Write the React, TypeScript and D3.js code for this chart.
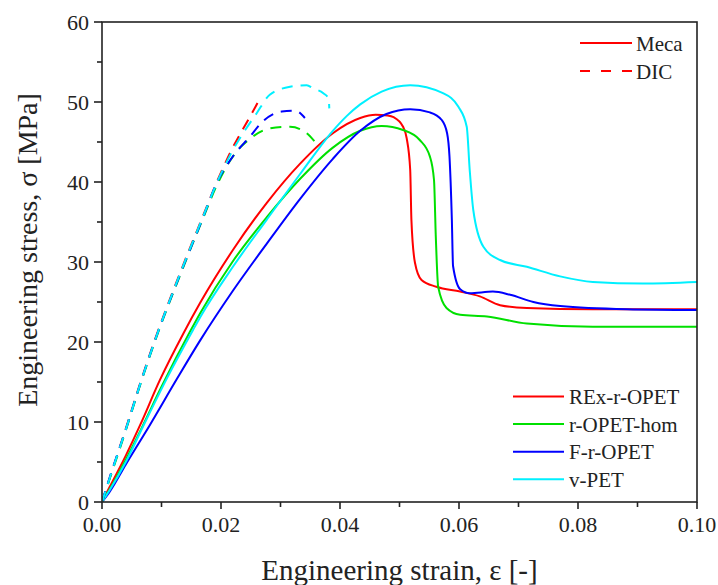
import React from "react";
import * as d3 from "d3";

// plot frame (px)
const W = 718;
const H = 585;
const margin = { left: 102, right: 21, top: 22, bottom: 83 };

// Meca curves [strain, stress]
const rexMeca = [
  [0, 0], [0.0013, 1.9], [0.004, 5.8], [0.0064, 9.6], [0.0097, 15.2], [0.0137, 21.1],
  [0.0165, 24.9], [0.022, 31.5], [0.0277, 37.4], [0.0333, 42.3], [0.0388, 46.1],
  [0.0434, 48.0], [0.046, 48.4], [0.048, 48.3], [0.049, 48.1], [0.0506, 46.9],
  [0.0512, 45.5], [0.0518, 41.5], [0.052, 35.3], [0.0526, 29.9], [0.0537, 27.75],
  [0.0562, 26.9], [0.0602, 26.3], [0.0635, 25.7], [0.0669, 24.6], [0.0714, 24.25],
  [0.0825, 24.1], [0.1, 24.1]
];
const homMeca = [
  [0, 0], [0.0013, 1.6], [0.004, 5.3], [0.0067, 9.3], [0.01, 14.4], [0.0148, 21.3],
  [0.0165, 23.6], [0.022, 30.1], [0.0277, 35.6], [0.0333, 40.4], [0.0388, 44.3],
  [0.0434, 46.4], [0.047, 47.0], [0.0506, 46.5], [0.0534, 45.25], [0.0551, 43.2],
  [0.0558, 40.25], [0.0561, 33.2], [0.0565, 26.9], [0.0579, 24.25], [0.0602, 23.4],
  [0.0647, 23.2], [0.0714, 22.3], [0.0825, 21.9], [0.1, 21.9]
];
const fMeca = [
  [0, 0], [0.0013, 1.3], [0.004, 4.7], [0.0081, 9.7], [0.0126, 15.4], [0.0165, 20.2],
  [0.022, 26.4], [0.0277, 32.3], [0.0333, 37.9], [0.0388, 42.9], [0.0434, 46.4],
  [0.0478, 48.5], [0.0518, 49.1], [0.0551, 48.7], [0.0571, 47.75], [0.058, 46.1],
  [0.0584, 43.2], [0.0588, 35.25], [0.059, 29.5], [0.0602, 26.6], [0.0618, 26.1],
  [0.0657, 26.3], [0.0686, 25.9], [0.0725, 25.0], [0.077, 24.5], [0.0882, 24.1], [0.1, 24.0]
];
const vMeca = [
  [0, 0], [0.0013, 1.5], [0.004, 5.0], [0.007, 9.6], [0.0108, 15.3], [0.0153, 21.5],
  [0.0165, 23.1], [0.022, 29.4], [0.0277, 35.3], [0.0333, 41.0], [0.0388, 46.4],
  [0.0412, 48.3], [0.0434, 49.7], [0.047, 51.3], [0.0518, 52.1], [0.0573, 51.1],
  [0.0599, 49.4], [0.0613, 46.9], [0.0618, 41.5], [0.0624, 36.5], [0.0641, 31.9],
  [0.0669, 30.25], [0.0714, 29.4], [0.077, 28.2], [0.0825, 27.5], [0.0909, 27.3], [0.1, 27.5]
];

// DIC curves [strain, stress]
const rexDic = [
  [0, 0], [0.0013, 3.0], [0.0041, 9.4], [0.0064, 14.8], [0.0089, 20.3], [0.0131, 28.6],
  [0.017, 35.8], [0.0193, 40.0], [0.0215, 43.6], [0.0249, 48.2], [0.0266, 50.5]
];
const homDic = [
  [0, 0], [0.0013, 2.9], [0.0041, 9.2], [0.0064, 14.6], [0.0089, 20.1], [0.0131, 28.3],
  [0.017, 35.5], [0.0193, 39.6], [0.0226, 43.8], [0.0246, 45.25], [0.0282, 46.7],
  [0.0316, 46.9], [0.0344, 46.1], [0.0358, 45.0]
];
const fDic = [
  [0, 0], [0.0013, 3.1], [0.0041, 9.3], [0.0064, 14.7], [0.0089, 20.2], [0.0131, 28.4],
  [0.017, 35.6], [0.0193, 39.9], [0.022, 43.2], [0.0249, 45.7], [0.0268, 47.4],
  [0.0302, 48.8], [0.0325, 48.9], [0.0341, 48.0]
];
const vDic = [
  [0, 0], [0.0013, 3.0], [0.0041, 9.3], [0.0064, 14.7], [0.0089, 20.2], [0.0131, 28.5],
  [0.017, 35.7], [0.0193, 39.9], [0.0215, 43.3], [0.026, 48.6], [0.0282, 50.9],
  [0.0316, 51.9], [0.0344, 52.1], [0.0355, 51.7], [0.0372, 51.1], [0.0381, 50.4], [0.0382, 49.2]
];

const seriesNames = ["REx-r-OPET", "r-OPET-hom", "F-r-OPET", "v-PET"];
const seriesColors = ["#ff0000", "#00e000", "#0000ff", "#00f0ff"];
const mecaData = [rexMeca, homMeca, fMeca, vMeca];
const dicData = [rexDic, homDic, fDic, vDic];

const xTicks = [0, 0.02, 0.04, 0.06, 0.08, 0.1];
const xMinor = [0.01, 0.03, 0.05, 0.07, 0.09];
const yTicks = [0, 10, 20, 30, 40, 50, 60];
const yMinor = [5, 15, 25, 35, 45, 55];

const font = "'Liberation Serif', 'Times New Roman', serif";
const axisColor = "#222";

export default function App() {
  const x = d3.scaleLinear().domain([0, 0.1]).range([margin.left, W - margin.right]);
  const y = d3.scaleLinear().domain([0, 60]).range([H - margin.bottom, margin.top]);

  const line = d3
    .line<number[]>()
    .x(d => x(d[0]))
    .y(d => y(d[1]))
    .curve(d3.curveMonotoneX);

  const fmt = d3.format(".2f");
  const x0 = x(0);
  const y0 = y(0);

  return (
    <svg width={W} height={H} style={{ position: "absolute", left: 0, top: 0 }} fontFamily={font}>
      <rect width={W} height={H} fill="#fff" />
      <defs>
        <clipPath id="plot">
          <rect x={x(0)} y={y(60)} width={x(0.1) - x(0)} height={y(0) - y(60)} />
        </clipPath>
      </defs>

      {/* curves */}
      <g clipPath="url(#plot)" fill="none" strokeWidth={2}>
        {mecaData.map((d, i) => (
          <path key={"m" + i} d={line(d)!} stroke={seriesColors[i]} />
        ))}
        {dicData.map((d, i) => (
          <path key={"d" + i} d={line(d)!} stroke={seriesColors[i]} strokeDasharray="11,8" />
        ))}
      </g>

      {/* frame */}
      <rect x={x(0)} y={y(60)} width={x(0.1) - x(0)} height={y(0) - y(60)} fill="none" stroke={axisColor} strokeWidth={1.6} />

      {/* x axis */}
      {xTicks.map(t => (
        <g key={"xt" + t}>
          <line x1={x(t)} x2={x(t)} y1={y0} y2={y0 + 7} stroke={axisColor} strokeWidth={1.6} />
          <text x={x(t)} y={y0 + 30} textAnchor="middle" fontSize={22} fill="#222">{fmt(t)}</text>
        </g>
      ))}
      {xMinor.map(t => (
        <line key={"xm" + t} x1={x(t)} x2={x(t)} y1={y0} y2={y0 + 5} stroke={axisColor} strokeWidth={1.6} />
      ))}

      {/* y axis */}
      {yTicks.map(t => (
        <g key={"yt" + t}>
          <line x1={x0 - 8} x2={x0} y1={y(t)} y2={y(t)} stroke={axisColor} strokeWidth={1.6} />
          <text x={x0 - 13} y={y(t) + 7.5} textAnchor="end" fontSize={22} fill="#222">{t}</text>
        </g>
      ))}
      {yMinor.map(t => (
        <line key={"ym" + t} x1={x0 - 5} x2={x0} y1={y(t)} y2={y(t)} stroke={axisColor} strokeWidth={1.6} />
      ))}

      {/* axis titles */}
      <text x={(x(0) + x(0.1)) / 2} y={580} textAnchor="middle" fontSize={29} fill="#222">
        Engineering strain, ε [-]
      </text>
      <text
        transform={`translate(37, 250) rotate(-90)`}
        textAnchor="middle"
        fontSize={28}
        fill="#222"
      >
        Engineering stress, σ [MPa]
      </text>

      {/* legend: test type */}
      <g fontSize={21} fill="#222">
        <line x1={580} x2={632} y1={43} y2={43} stroke="#ff0000" strokeWidth={2} />
        <text x={636} y={50.5}>Meca</text>
        <line x1={580} x2={632} y1={71} y2={71} stroke="#ff0000" strokeWidth={2} strokeDasharray="10,11" />
        <text x={636} y={78.5}>DIC</text>
      </g>

      {/* legend: materials */}
      <g fontSize={21} fill="#222">
        {seriesNames.map((name, i) => (
          <g key={name}>
            <line x1={513} x2={564} y1={396.5 + i * 27.6} y2={396.5 + i * 27.6} stroke={seriesColors[i]} strokeWidth={2} />
            <text x={569} y={404 + i * 27.6}>{name}</text>
          </g>
        ))}
      </g>
    </svg>
  );
}
